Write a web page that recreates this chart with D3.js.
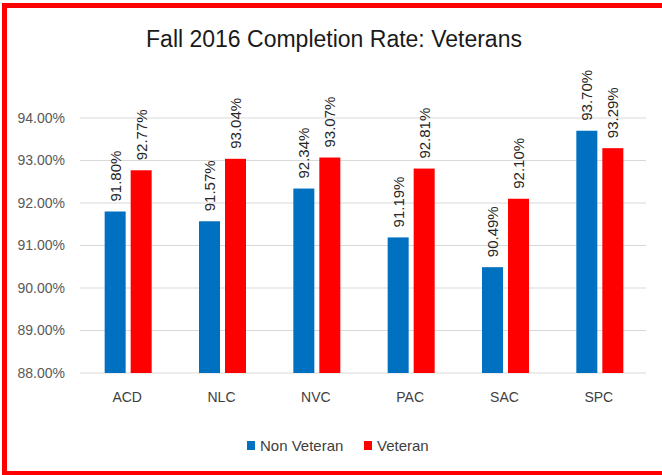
<!DOCTYPE html>
<html>
<head>
<meta charset="utf-8">
<script src="https://cdn.jsdelivr.net/npm/d3@7"></script>
<style>
  body { margin: 0; background: #fff; }
  svg { display: block; font-family: "Liberation Sans", Arial, sans-serif; }
</style>
</head>
<body>
<script>
// chart values
var categories = ["ACD", "NLC", "NVC", "PAC", "SAC", "SPC"];
var seriesNames = ["Non Veteran", "Veteran"];
var nonVeteran = [91.80, 91.57, 92.34, 91.19, 90.49, 93.70];
var veteran = [92.77, 93.04, 93.07, 92.81, 92.10, 93.29];
var yTicks = [88, 89, 90, 91, 92, 93, 94];

var colors = {"Non Veteran": "#0070C0", "Veteran": "#FF0000"};

var width = 662, height = 475;
var margin = {top: 118, right: 16, bottom: 102, left: 80};

var svg = d3.select("body").append("svg")
    .attr("width", width)
    .attr("height", height);

// red frame (no right edge visible)
svg.append("rect")
    .attr("x", 4.5).attr("y", 5.5)
    .attr("width", 720).attr("height", 468)
    .attr("fill", "none")
    .attr("stroke", "#FF0000")
    .attr("stroke-width", 5);

// title
svg.append("text")
    .attr("x", 334).attr("y", 47)
    .attr("text-anchor", "middle")
    .attr("font-size", 23)
    .attr("fill", "#1a1a1a")
    .text("Fall 2016 Completion Rate: Veterans");

var g = svg.append("g")
    .attr("transform", "translate(" + margin.left + "," + margin.top + ")");

var plotW = width - margin.left - margin.right,
    plotH = height - margin.top - margin.bottom;

var y = d3.scaleLinear().domain([88, 94]).range([plotH, 0]);

var x0 = d3.scaleBand().domain(categories).range([0, plotW]);
var x1 = d3.scaleBand().domain(seriesNames)
    .range([x0.bandwidth() / 2 - 22.5, x0.bandwidth() / 2 + 24.5])
    .paddingInner(0.1923);

// gridlines
g.selectAll(".grid")
    .data(yTicks)
    .enter().append("line")
    .attr("x1", 0).attr("x2", plotW)
    .attr("y1", function (d) { return y(d); })
    .attr("y2", function (d) { return y(d); })
    .attr("stroke", "#d9d9d9")
    .attr("stroke-width", 1);

// y axis labels
var yAxis = g.append("g")
    .call(d3.axisLeft(y).tickValues(yTicks).tickSize(0).tickPadding(15)
        .tickFormat(function (d) { return d.toFixed(2) + "%"; }));
yAxis.select(".domain").remove();
yAxis.selectAll("text")
    .attr("font-family", "Liberation Sans, Arial, sans-serif")
    .attr("font-size", 14)
    .attr("fill", "#595959");

// x axis labels
var xAxis = g.append("g")
    .attr("transform", "translate(0," + plotH + ")")
    .call(d3.axisBottom(x0).tickSize(0).tickPadding(19));
xAxis.select(".domain").remove();
xAxis.selectAll("text")
    .attr("font-family", "Liberation Sans, Arial, sans-serif")
    .attr("font-size", 14)
    .attr("fill", "#404040");

var rows = categories.map(function (c, i) {
    return {cat: c, values: [
        {name: "Non Veteran", value: nonVeteran[i]},
        {name: "Veteran", value: veteran[i]}
    ]};
});

var groups = g.selectAll(".cat")
    .data(rows)
    .enter().append("g")
    .attr("transform", function (d) { return "translate(" + x0(d.cat) + ",0)"; });

groups.selectAll("rect")
    .data(function (d) { return d.values; })
    .enter().append("rect")
    .attr("x", function (d) { return x1(d.name); })
    .attr("width", x1.bandwidth())
    .attr("y", function (d) { return y(d.value); })
    .attr("height", function (d) { return plotH - y(d.value); })
    .attr("fill", function (d) { return colors[d.name]; });

// rotated value labels
groups.selectAll(".lbl")
    .data(function (d) { return d.values; })
    .enter().append("text")
    .attr("transform", function (d) {
        var cx = x1(d.name) + x1.bandwidth() / 2;
        return "translate(" + cx + "," + (y(d.value) - 10) + ") rotate(-90)";
    })
    .attr("dy", "0.36em")
    .attr("font-size", 15)
    .attr("fill", "#262626")
    .text(function (d) { return d.value.toFixed(2) + "%"; });

// legend
var legend = svg.append("g");
var legendItems = [
    {name: "Non Veteran", sx: 247, tx: 260},
    {name: "Veteran", sx: 364, tx: 377}
];
legend.selectAll("rect")
    .data(legendItems)
    .enter().append("rect")
    .attr("x", function (d) { return d.sx; })
    .attr("y", 441)
    .attr("width", 8).attr("height", 9)
    .attr("fill", function (d) { return colors[d.name]; });
legend.selectAll("text")
    .data(legendItems)
    .enter().append("text")
    .attr("x", function (d) { return d.tx; })
    .attr("y", 451)
    .attr("font-size", 15)
    .attr("fill", "#404040")
    .text(function (d) { return d.name; });
</script>
</body>
</html>
